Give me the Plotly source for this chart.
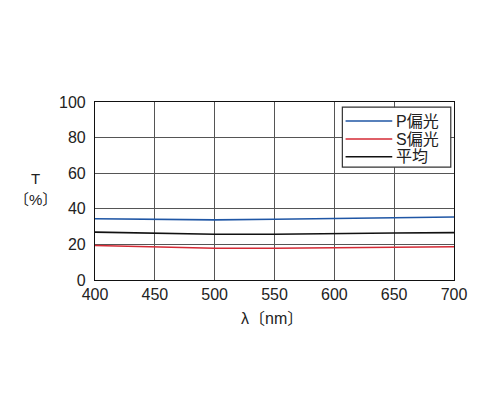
import plotly.graph_objects as go

# wavelength (nm)
wavelength = [400, 450, 500, 550, 600, 650, 700]

# transmittance (%)
p_pol = [34.4, 34.0, 33.8, 34.1, 34.5, 35.0, 35.4]
s_pol = [19.4, 18.5, 17.8, 17.8, 18.2, 18.5, 18.7]
avg = [26.9, 26.2, 25.7, 25.7, 26.2, 26.4, 26.6]

series_names = ['P偏光', 'S偏光', '平均']
series_colors = ['#1f56a5', '#d42a35', '#111111']

FONT = 'Liberation Sans, Arial, Noto Sans CJK JP'

fig = go.Figure()

for name, vals, col in zip(series_names, [p_pol, s_pol, avg], series_colors):
    fig.add_trace(go.Scatter(
        x=wavelength, y=vals,
        mode='lines',
        name=name,
        line=dict(color=col, width=1.6),
        showlegend=False,
    ))

fig.update_xaxes(
    range=[400, 700],
    dtick=50,
    showgrid=True,
    gridcolor='#555555',
    gridwidth=1,
    zeroline=False,
    showline=True,
    linecolor='#111111',
    linewidth=1.2,
    mirror=True,
    ticks='',
    ticklabelstandoff=0,
    tickfont=dict(size=16, color='#222222', family=FONT),
)
fig.update_yaxes(
    range=[0, 100],
    dtick=20,
    showgrid=True,
    gridcolor='#555555',
    gridwidth=1,
    zeroline=False,
    showline=True,
    linecolor='#111111',
    linewidth=1.2,
    mirror=True,
    ticks='',
    ticklabelstandoff=5,
    tickfont=dict(size=16, color='#222222', family=FONT),
)

# legend drawn by hand (box, line samples, labels)
shapes = [dict(
    type='rect', xref='x domain', yref='y domain',
    x0=0.689, x1=0.991, y0=0.634, y1=0.971,
    fillcolor='white', line=dict(color='#333333', width=1.2),
    layer='above',
)]
annotations = []
rows = [0.893, 0.792, 0.692]
for name, col, ry in zip(series_names, series_colors, rows):
    shapes.append(dict(
        type='line', xref='x domain', yref='y domain',
        x0=0.698, x1=0.828, y0=ry, y1=ry,
        line=dict(color=col, width=1.6), layer='above',
    ))
    annotations.append(dict(
        text=name, xref='x domain', yref='y domain',
        x=0.834, y=ry, xanchor='left', yanchor='middle',
        showarrow=False, font=dict(size=16, color='#222222', family=FONT),
    ))

# axis titles
annotations.append(dict(
    text='T', xref='paper', yref='paper', x=-0.167, y=0.57,
    xanchor='center', yanchor='middle', showarrow=False,
    font=dict(size=15, color='#222222', family=FONT),
))
annotations.append(dict(
    text='〔%〕', xref='paper', yref='paper', x=-0.167, y=0.455,
    xanchor='center', yanchor='middle', showarrow=False,
    font=dict(size=15, color='#222222', family=FONT),
))
annotations.append(dict(
    text='λ〔nm〕', xref='paper', yref='paper', x=0.493, y=-0.215,
    xanchor='center', yanchor='middle', showarrow=False,
    font=dict(size=16, color='#222222', family=FONT),
))

fig.update_layout(
    width=500, height=417,
    margin=dict(l=95, r=46, t=102, b=137),
    plot_bgcolor='white',
    paper_bgcolor='white',
    shapes=shapes,
    annotations=annotations,
    font=dict(family=FONT),
)

fig.write_html('out.html', config={'displayModeBar': False},
               post_script="document.body.style.margin='0px';")
